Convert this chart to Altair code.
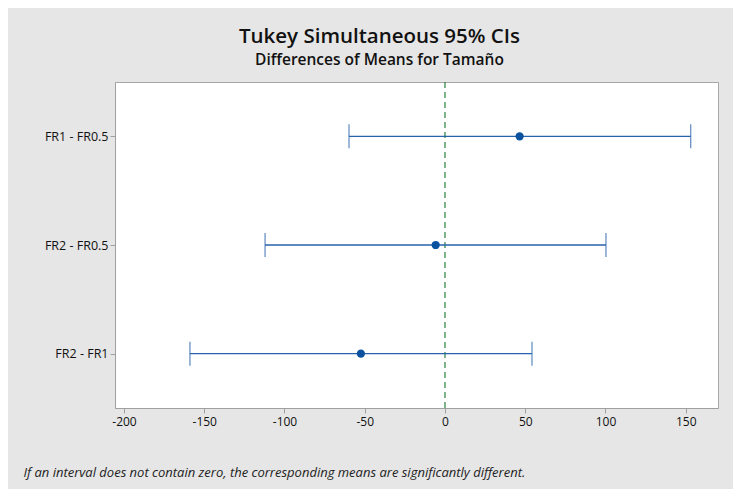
import altair as alt
import pandas as pd

comparisons = ["FR1 - FR0.5", "FR2 - FR0.5", "FR2 - FR1"]
diffs = [46.5, -5.8, -52.4]
lowers = [-59.8, -112.1, -158.9]
uppers = [153.1, 100.3, 54.2]
x_ticks = [-200, -150, -100, -50, 0, 50, 100, 150]
x_domain = [-205.6, 170.1]

df = pd.DataFrame({"comp": comparisons, "diff": diffs, "lower": lowers, "upper": uppers})
zero = pd.DataFrame({"z": [0]})

font = "Open Sans"
line_col = "#2862ab"
dot_col = "#0a52a0"

xs = alt.Scale(domain=x_domain, nice=False, zero=False)
ys = alt.Scale(type="point", padding=0.5, domain=comparisons)

x_axis = alt.Axis(values=x_ticks, grid=False, labelFont=font, labelFontSize=12, labelColor="#111111",
                  labelExpr="toString(datum.value)",
                  tickColor="#a0a0a0", domainColor="#a0a0a0", tickSize=5, labelPadding=3,
                  title="If an interval does not contain zero, the corresponding means are significantly different.",
                  titleFont=font, titleFontSize=13, titleFontStyle="italic", titleFontWeight="normal",
                  titleColor="#222222", titleAnchor="start", titleAlign="left", titleX=-92, titleY=64,
                  titleBaseline="middle")
y_axis = alt.Axis(title=None, grid=False, labelFont=font, labelFontSize=12.5, labelColor="#111111",
                  tickColor="#a0a0a0", domainColor="#a0a0a0", tickSize=5, labelPadding=2)

base = alt.Chart(df)

rules = base.mark_rule(color=line_col, strokeWidth=1.3).encode(
    x=alt.X("lower:Q", scale=xs, axis=x_axis),
    x2="upper:Q",
    y=alt.Y("comp:N", scale=ys, axis=y_axis, sort=comparisons),
)
cap_lo = base.mark_tick(color=line_col, size=24, thickness=1.3).encode(
    x=alt.X("lower:Q", scale=xs), y=alt.Y("comp:N", scale=ys, sort=comparisons))
cap_hi = base.mark_tick(color=line_col, size=24, thickness=1.3).encode(
    x=alt.X("upper:Q", scale=xs), y=alt.Y("comp:N", scale=ys, sort=comparisons))
zline = alt.Chart(zero).mark_rule(color="#12782c", strokeDash=[6, 4], strokeWidth=1.1).encode(
    x=alt.X("z:Q", scale=xs))
dots = base.mark_point(filled=True, color=dot_col, size=68, opacity=1).encode(
    x=alt.X("diff:Q", scale=xs), y=alt.Y("comp:N", scale=ys, sort=comparisons))

chart = alt.layer(zline, rules, cap_lo, cap_hi, dots).properties(
    width=603, height=326,
    background="#e6e6e6",
    padding={"left": 107, "top": 74, "right": 15, "bottom": 81},
    autosize=alt.AutoSizeParams(type="none"),
    title=alt.TitleParams(
        text="Tukey Simultaneous 95% CIs",
        subtitle="Differences of Means for Tamaño",
        font=font, fontSize=20.5, fontWeight=600, color="#111111",
        subtitleFont=font, subtitleFontSize=15.5, subtitleFontWeight=600, subtitleColor="#111111",
        anchor="middle", dx=-37, offset=13, subtitlePadding=5,
    ),
).configure_view(stroke="#a8a8a8", fill="white")

chart.save("out.html", embed_options={"renderer": "svg", "actions": False})
